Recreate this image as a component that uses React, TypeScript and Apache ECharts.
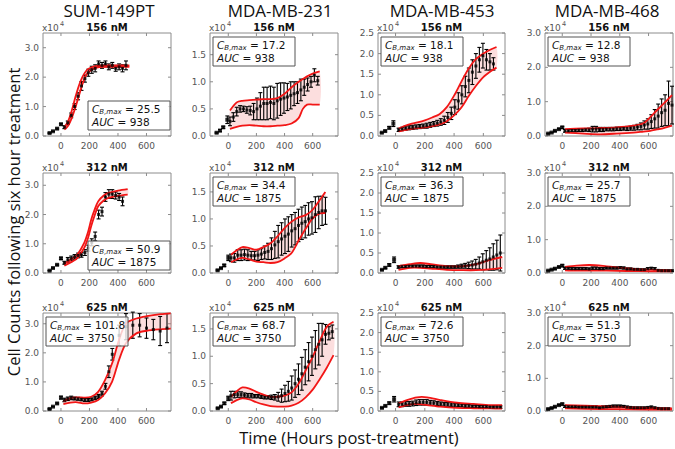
import React, { useEffect, useRef } from "react";
import * as echarts from "echarts";

// ---------- labels ----------
const CELL_LINES = ["SUM-149PT", "MDA-MB-231", "MDA-MB-453", "MDA-MB-468"];
const DOSES = ["156 nM", "312 nM", "625 nM"];
const AUC = ["938", "1875", "3750"];
const CBMAX = [
  ["25.5", "17.2", "18.1", "12.8"],
  ["50.9", "34.4", "36.3", "25.7"],
  ["101.8", "68.7", "72.6", "51.3"],
];
const X_TICKS = [0, 200, 400, 600];
const Y_TICKS_WHOLE = [0, 1, 2, 3];
const Y_TICKS_231 = [0, 0.5, 1, 1.5];
const Y_TICKS_453 = [0, 0.5, 1, 1.5, 2, 2.5];
const Y_LABEL = "Cell Counts following six hour treatment";
const X_LABEL = "Time (Hours post-treatment)";

// ---------- data (cell counts in units of 10^4; [hours, mean, error]) ----------
const SUM156_PRE = [[-80, 0.1, 0.01], [-56, 0.16, 0.01], [-27, 0.25, 0.02], [0, 0.4, 0.03]];
const SUM156_OBS = [[24, 0.3, 0.05], [48, 0.45, 0.06], [72, 0.7, 0.08], [96, 1.0, 0.1], [120, 1.35, 0.12], [144, 1.7, 0.15], [168, 1.95, 0.12], [192, 2.15, 0.12], [216, 2.25, 0.12], [240, 2.3, 0.12], [264, 2.45, 0.1], [288, 2.4, 0.1], [312, 2.45, 0.1], [336, 2.35, 0.1], [360, 2.4, 0.1], [384, 2.3, 0.1], [408, 2.35, 0.1], [432, 2.3, 0.12], [456, 2.4, 0.15]];
const SUM156_FIT_T = [24, 50, 75, 100, 125, 150, 175, 200, 250, 300, 350, 400, 480];
const SUM156_LO = [0.22, 0.35, 0.6, 0.95, 1.35, 1.75, 2.05, 2.2, 2.32, 2.35, 2.35, 2.35, 2.35];
const SUM156_HI = [0.3, 0.5, 0.85, 1.3, 1.7, 2.0, 2.2, 2.3, 2.38, 2.4, 2.4, 2.4, 2.4];

const SUM312_PRE = [[-80, 0.08, 0.01], [-56, 0.17, 0.01], [-27, 0.28, 0.02], [0, 0.5, 0.04]];
const SUM312_OBS = [[24, 0.35, 0.05], [48, 0.45, 0.08], [72, 0.5, 0.08], [96, 0.55, 0.08], [120, 0.6, 0.08], [144, 0.62, 0.08], [168, 0.7, 0.1], [192, 0.85, 0.1], [216, 1.05, 0.12], [240, 1.25, 0.15], [264, 2.0, 0.15], [288, 2.1, 0.15], [312, 2.6, 0.15], [336, 2.7, 0.15], [360, 2.7, 0.15], [384, 2.65, 0.12], [408, 2.6, 0.12], [432, 2.45, 0.15]];
const SUM312_FIT_T = [24, 75, 115, 163, 190, 212, 235, 261, 300, 334, 400, 468];
const SUM312_LO = [0.25, 0.38, 0.51, 0.86, 1.2, 1.6, 1.95, 2.28, 2.48, 2.57, 2.64, 2.68];
const SUM312_HI = [0.32, 0.48, 0.63, 1.03, 1.4, 1.82, 2.15, 2.45, 2.65, 2.74, 2.82, 2.87];

const SUM625_PRE = [[-80, 0.07, 0.01], [-56, 0.15, 0.01], [-27, 0.26, 0.02], [0, 0.46, 0.05]];
const SUM625_OBS = [[24, 0.38, 0.06], [48, 0.42, 0.06], [72, 0.45, 0.06], [96, 0.43, 0.05], [120, 0.42, 0.05], [144, 0.4, 0.05], [168, 0.38, 0.05], [192, 0.38, 0.05], [216, 0.4, 0.05], [240, 0.45, 0.06], [264, 0.5, 0.07], [288, 0.6, 0.08], [312, 0.85, 0.1], [336, 1.35, 0.2], [360, 1.95, 0.2], [408, 2.6, 0.35], [456, 2.9, 0.45], [504, 2.95, 0.45], [552, 2.95, 0.4], [600, 2.85, 0.35], [648, 2.8, 0.35], [696, 2.75, 0.5], [744, 2.85, 0.5]];
const SUM625_FIT_T = [17, 66, 115, 163, 212, 261, 310, 359, 407, 456, 529, 602, 700, 770];
const SUM625_LO = [0.24, 0.29, 0.3, 0.26, 0.29, 0.38, 0.61, 1.01, 1.75, 2.33, 2.67, 2.76, 2.81, 2.83];
const SUM625_HI = [0.34, 0.44, 0.47, 0.46, 0.49, 0.66, 1.07, 1.64, 2.44, 3.01, 3.18, 3.26, 3.33, 3.36];

const MB231_156_PRE = [[-83, 0.06, 0.01], [-59, 0.1, 0.02], [-36, 0.16, 0.02], [-7, 0.3, 0.07]];
const MB231_156_OBS = [[12, 0.27, 0.08], [36, 0.35, 0.08], [60, 0.45, 0.08], [84, 0.5, 0.06], [108, 0.5, 0.05], [132, 0.48, 0.06], [156, 0.47, 0.08], [180, 0.45, 0.15], [204, 0.5, 0.2], [228, 0.55, 0.25], [252, 0.6, 0.3], [276, 0.6, 0.3], [300, 0.62, 0.3], [324, 0.6, 0.3], [348, 0.65, 0.32], [372, 0.68, 0.3], [396, 0.7, 0.28], [420, 0.72, 0.25], [444, 0.75, 0.25], [468, 0.78, 0.22], [492, 0.8, 0.2], [516, 0.85, 0.2], [540, 0.9, 0.15], [564, 0.95, 0.12], [588, 1.0, 0.1], [612, 1.12, 0.12], [636, 1.02, 0.08]];
const MB231_156_FIT_T = [12, 60, 100, 150, 200, 250, 300, 350, 400, 450, 500, 530, 560, 600, 650];
const MB231_156_LO = [0.13, 0.17, 0.19, 0.2, 0.19, 0.18, 0.18, 0.19, 0.2, 0.23, 0.33, 0.5, 0.58, 0.58, 0.58];
const MB231_156_HI = [0.47, 0.62, 0.65, 0.66, 0.67, 0.68, 0.68, 0.7, 0.78, 0.9, 1.0, 1.05, 1.1, 1.15, 1.19];

const MB231_312_PRE = [[-76, 0.05, 0.01], [-52, 0.09, 0.01], [-29, 0.14, 0.02], [0, 0.28, 0.05]];
const MB231_312_OBS = [[19, 0.28, 0.07], [43, 0.28, 0.08], [67, 0.33, 0.1], [91, 0.33, 0.1], [115, 0.34, 0.1], [139, 0.33, 0.1], [163, 0.32, 0.08], [187, 0.32, 0.08], [211, 0.33, 0.1], [235, 0.35, 0.1], [259, 0.38, 0.12], [283, 0.4, 0.15], [307, 0.45, 0.2], [331, 0.52, 0.25], [355, 0.58, 0.3], [379, 0.63, 0.3], [403, 0.68, 0.32], [427, 0.72, 0.32], [451, 0.78, 0.3], [475, 0.82, 0.3], [499, 0.88, 0.3], [523, 0.92, 0.3], [547, 0.95, 0.3], [571, 1.0, 0.3], [595, 1.02, 0.3], [619, 1.08, 0.33], [643, 1.12, 0.3], [667, 1.15, 0.27], [691, 1.15, 0.25]];
const MB231_312_FIT_T = [19, 60, 100, 150, 200, 250, 300, 350, 400, 450, 500, 550, 600, 650, 690];
const MB231_312_LO = [0.2, 0.25, 0.28, 0.25, 0.21, 0.2, 0.185, 0.2, 0.27, 0.37, 0.6, 0.82, 1.01, 1.1, 1.11];
const MB231_312_HI = [0.34, 0.42, 0.48, 0.46, 0.43, 0.48, 0.55, 0.68, 0.83, 0.95, 1.03, 1.07, 1.17, 1.35, 1.5];

const MB231_625_PRE = [[-75, 0.05, 0.01], [-52, 0.08, 0.01], [-28, 0.14, 0.02], [0, 0.23, 0.04]];
const MB231_625_OBS = [[19, 0.28, 0.08], [43, 0.3, 0.06], [67, 0.3, 0.05], [91, 0.3, 0.05], [115, 0.29, 0.04], [139, 0.28, 0.04], [163, 0.28, 0.04], [187, 0.27, 0.03], [211, 0.27, 0.03], [235, 0.26, 0.03], [259, 0.25, 0.03], [283, 0.25, 0.03], [307, 0.25, 0.04], [331, 0.25, 0.05], [355, 0.26, 0.08], [379, 0.28, 0.12], [403, 0.32, 0.15], [427, 0.36, 0.18], [451, 0.42, 0.22], [475, 0.5, 0.25], [499, 0.58, 0.28], [523, 0.68, 0.3], [547, 0.8, 0.32], [571, 0.9, 0.35], [595, 1.0, 0.35], [619, 1.12, 0.35], [643, 1.22, 0.38], [667, 1.3, 0.3], [691, 1.4, 0.18], [715, 1.42, 0.12], [739, 1.45, 0.12]];
const MB231_625_FIT_T = [19, 60, 100, 150, 200, 250, 300, 350, 400, 450, 500, 550, 600, 650, 700, 748];
const MB231_625_LO = [0.14, 0.2, 0.23, 0.21, 0.16, 0.12, 0.09, 0.08, 0.08, 0.1, 0.15, 0.25, 0.39, 0.58, 0.79, 1.02];
const MB231_625_HI = [0.26, 0.36, 0.43, 0.41, 0.35, 0.3, 0.26, 0.26, 0.28, 0.34, 0.5, 0.74, 0.99, 1.28, 1.54, 1.63];

const MB453_156_PRE = [[-94, 0.08, 0.01], [-71, 0.12, 0.02], [-43, 0.2, 0.03], [-15, 0.3, 0.07]];
const MB453_156_OBS = [[21, 0.15, 0.04], [45, 0.17, 0.04], [69, 0.19, 0.05], [93, 0.2, 0.05], [117, 0.21, 0.05], [141, 0.22, 0.05], [165, 0.23, 0.05], [189, 0.24, 0.05], [213, 0.25, 0.06], [237, 0.27, 0.06], [261, 0.29, 0.06], [285, 0.31, 0.07], [309, 0.34, 0.08], [333, 0.38, 0.1], [357, 0.45, 0.12], [381, 0.55, 0.15], [405, 0.7, 0.18], [429, 0.85, 0.2], [453, 1.0, 0.22], [477, 1.2, 0.25], [501, 1.35, 0.3], [525, 1.55, 0.3], [549, 1.7, 0.3], [573, 1.85, 0.3], [597, 1.95, 0.3], [621, 1.85, 0.25], [645, 1.8, 0.2], [669, 1.75, 0.15]];
const MB453_156_FIT_T = [21, 60, 100, 150, 200, 250, 300, 350, 400, 450, 500, 550, 600, 650, 690];
const MB453_156_LO = [0.11, 0.14, 0.17, 0.19, 0.21, 0.24, 0.28, 0.36, 0.5, 0.69, 0.97, 1.22, 1.43, 1.57, 1.66];
const MB453_156_HI = [0.18, 0.24, 0.29, 0.33, 0.38, 0.45, 0.53, 0.7, 0.98, 1.32, 1.64, 1.87, 2.0, 2.1, 2.16];

const MB453_312_PRE = [[-93, 0.08, 0.01], [-70, 0.13, 0.02], [-43, 0.2, 0.03], [-10, 0.33, 0.07]];
const MB453_312_OBS = [[20, 0.15, 0.03], [44, 0.16, 0.03], [68, 0.16, 0.03], [92, 0.17, 0.03], [116, 0.17, 0.03], [140, 0.17, 0.03], [164, 0.17, 0.03], [188, 0.17, 0.03], [212, 0.16, 0.03], [236, 0.16, 0.03], [260, 0.16, 0.03], [284, 0.15, 0.03], [308, 0.15, 0.03], [332, 0.15, 0.03], [356, 0.15, 0.03], [380, 0.15, 0.03], [404, 0.15, 0.03], [428, 0.16, 0.04], [452, 0.17, 0.05], [476, 0.18, 0.06], [500, 0.19, 0.08], [524, 0.2, 0.1], [548, 0.22, 0.12], [572, 0.25, 0.15], [596, 0.28, 0.2], [620, 0.32, 0.24], [644, 0.35, 0.28], [668, 0.4, 0.33], [692, 0.45, 0.37], [716, 0.5, 0.45]];
const MB453_312_FIT_T = [20, 100, 170, 240, 350, 460, 550, 640, 729];
const MB453_312_LO = [0.08, 0.13, 0.13, 0.11, 0.08, 0.07, 0.07, 0.09, 0.13];
const MB453_312_HI = [0.17, 0.22, 0.25, 0.22, 0.17, 0.17, 0.22, 0.32, 0.4];

const MB453_625_PRE = [[-93, 0.08, 0.01], [-70, 0.13, 0.02], [-43, 0.2, 0.03], [-10, 0.3, 0.07]];
const MB453_625_OBS = [[21, 0.17, 0.06], [45, 0.17, 0.06], [69, 0.18, 0.06], [93, 0.18, 0.06], [117, 0.19, 0.06], [141, 0.21, 0.07], [165, 0.22, 0.07], [189, 0.22, 0.07], [213, 0.22, 0.07], [237, 0.21, 0.06], [261, 0.2, 0.06], [285, 0.19, 0.05], [309, 0.18, 0.05], [333, 0.17, 0.05], [357, 0.17, 0.05], [381, 0.16, 0.05], [405, 0.15, 0.05], [429, 0.15, 0.04], [453, 0.14, 0.04], [477, 0.13, 0.04], [501, 0.13, 0.04], [525, 0.12, 0.03], [549, 0.12, 0.03], [573, 0.11, 0.03], [597, 0.11, 0.03], [621, 0.11, 0.03], [645, 0.1, 0.03], [669, 0.1, 0.03], [693, 0.1, 0.03], [717, 0.1, 0.03]];
const MB453_625_FIT_T = [21, 78, 146, 215, 306, 420, 534, 648, 728];
const MB453_625_LO = [0.09, 0.15, 0.18, 0.15, 0.11, 0.08, 0.07, 0.065, 0.06];
const MB453_625_HI = [0.19, 0.28, 0.35, 0.35, 0.28, 0.21, 0.18, 0.15, 0.15];

const MB468_156_PRE = [[-98, 0.07, 0.01], [-74, 0.1, 0.01], [-51, 0.15, 0.02], [-23, 0.2, 0.02], [0, 0.25, 0.03]];
const MB468_156_OBS = [[19, 0.15, 0.04], [43, 0.15, 0.04], [67, 0.16, 0.04], [91, 0.16, 0.04], [115, 0.17, 0.04], [139, 0.17, 0.04], [163, 0.18, 0.04], [187, 0.18, 0.05], [211, 0.2, 0.08], [235, 0.2, 0.08], [259, 0.19, 0.06], [283, 0.19, 0.06], [307, 0.2, 0.05], [331, 0.2, 0.05], [355, 0.2, 0.05], [379, 0.21, 0.05], [403, 0.21, 0.05], [427, 0.22, 0.05], [451, 0.22, 0.06], [475, 0.23, 0.06], [499, 0.24, 0.07], [523, 0.26, 0.08], [547, 0.28, 0.1], [571, 0.32, 0.12], [595, 0.35, 0.15], [619, 0.42, 0.2], [643, 0.5, 0.27], [667, 0.58, 0.35], [691, 0.68, 0.4], [715, 0.75, 0.45], [739, 0.95, 0.65], [763, 0.9, 0.55]];
const MB468_156_FIT_T = [19, 147, 263, 379, 495, 565, 612, 658, 705, 763];
const MB468_156_LO = [0.1, 0.07, 0.05, 0.07, 0.1, 0.13, 0.15, 0.19, 0.23, 0.3];
const MB468_156_HI = [0.2, 0.22, 0.23, 0.25, 0.3, 0.37, 0.55, 0.75, 0.94, 1.19];

const MB468_312_PRE = [[-98, 0.07, 0.01], [-74, 0.1, 0.01], [-51, 0.13, 0.02], [-23, 0.18, 0.02], [0, 0.22, 0.03]];
const MB468_312_OBS = [[19, 0.14, 0.03], [43, 0.14, 0.03], [67, 0.13, 0.03], [91, 0.13, 0.03], [115, 0.13, 0.03], [139, 0.13, 0.03], [163, 0.13, 0.03], [187, 0.12, 0.03], [211, 0.14, 0.04], [235, 0.14, 0.04], [259, 0.13, 0.03], [283, 0.13, 0.03], [307, 0.15, 0.03], [331, 0.15, 0.03], [355, 0.15, 0.03], [379, 0.15, 0.03], [403, 0.16, 0.03], [427, 0.15, 0.03], [451, 0.12, 0.03], [475, 0.12, 0.03], [499, 0.11, 0.02], [523, 0.11, 0.02], [547, 0.1, 0.02], [571, 0.1, 0.02], [595, 0.13, 0.03], [619, 0.14, 0.03], [643, 0.13, 0.03], [667, 0.08, 0.02], [691, 0.07, 0.02], [715, 0.07, 0.02], [739, 0.07, 0.02], [763, 0.07, 0.02]];
const MB468_312_FIT_T = [19, 100, 193, 309, 449, 612, 763];
const MB468_312_LO = [0.08, 0.07, 0.07, 0.07, 0.06, 0.05, 0.05];
const MB468_312_HI = [0.18, 0.22, 0.24, 0.2, 0.14, 0.1, 0.08];

const MB468_625_PRE = [[-98, 0.06, 0.01], [-74, 0.09, 0.01], [-51, 0.13, 0.02], [-23, 0.18, 0.02], [0, 0.21, 0.03]];
const MB468_625_OBS = [[19, 0.14, 0.03], [43, 0.13, 0.03], [67, 0.13, 0.03], [91, 0.13, 0.03], [115, 0.12, 0.03], [139, 0.12, 0.03], [163, 0.12, 0.03], [187, 0.12, 0.03], [211, 0.12, 0.03], [235, 0.12, 0.03], [259, 0.1, 0.02], [283, 0.12, 0.03], [307, 0.13, 0.03], [331, 0.14, 0.03], [355, 0.15, 0.03], [379, 0.15, 0.03], [403, 0.15, 0.03], [427, 0.14, 0.03], [451, 0.12, 0.03], [475, 0.11, 0.02], [499, 0.1, 0.02], [523, 0.1, 0.02], [547, 0.1, 0.02], [571, 0.1, 0.02], [595, 0.11, 0.02], [619, 0.12, 0.03], [643, 0.1, 0.02], [667, 0.08, 0.02], [691, 0.07, 0.02], [715, 0.07, 0.02], [739, 0.07, 0.02]];
const MB468_625_FIT_T = [19, 263, 495, 763];
const MB468_625_LO = [0.08, 0.06, 0.05, 0.04];
const MB468_625_HI = [0.18, 0.15, 0.11, 0.08];

// ---------- panel assembly (row-major) ----------
type Panel = { pre: number[][]; obs: number[][]; fitT: number[]; lo: number[]; hi: number[] };
const PANELS: Panel[] = [
  { pre: SUM156_PRE, obs: SUM156_OBS, fitT: SUM156_FIT_T, lo: SUM156_LO, hi: SUM156_HI },
  { pre: MB231_156_PRE, obs: MB231_156_OBS, fitT: MB231_156_FIT_T, lo: MB231_156_LO, hi: MB231_156_HI },
  { pre: MB453_156_PRE, obs: MB453_156_OBS, fitT: MB453_156_FIT_T, lo: MB453_156_LO, hi: MB453_156_HI },
  { pre: MB468_156_PRE, obs: MB468_156_OBS, fitT: MB468_156_FIT_T, lo: MB468_156_LO, hi: MB468_156_HI },
  { pre: SUM312_PRE, obs: SUM312_OBS, fitT: SUM312_FIT_T, lo: SUM312_LO, hi: SUM312_HI },
  { pre: MB231_312_PRE, obs: MB231_312_OBS, fitT: MB231_312_FIT_T, lo: MB231_312_LO, hi: MB231_312_HI },
  { pre: MB453_312_PRE, obs: MB453_312_OBS, fitT: MB453_312_FIT_T, lo: MB453_312_LO, hi: MB453_312_HI },
  { pre: MB468_312_PRE, obs: MB468_312_OBS, fitT: MB468_312_FIT_T, lo: MB468_312_LO, hi: MB468_312_HI },
  { pre: SUM625_PRE, obs: SUM625_OBS, fitT: SUM625_FIT_T, lo: SUM625_LO, hi: SUM625_HI },
  { pre: MB231_625_PRE, obs: MB231_625_OBS, fitT: MB231_625_FIT_T, lo: MB231_625_LO, hi: MB231_625_HI },
  { pre: MB453_625_PRE, obs: MB453_625_OBS, fitT: MB453_625_FIT_T, lo: MB453_625_LO, hi: MB453_625_HI },
  { pre: MB468_625_PRE, obs: MB468_625_OBS, fitT: MB468_625_FIT_T, lo: MB468_625_LO, hi: MB468_625_HI },
];

// ---------- layout & styling ----------
const W = 675;
const H = 449;
const COL_LEFT = [43, 210, 378, 545];
const COL_W = [128, 128, 127, 128];
const ROW_TOP = [33, 173, 313];
const ROW_H = [103, 100, 98];
const X_MIN = [-126, -130, -120, -120];
const X_MAX = [772, 780, 748, 770];
const Y_MAX = [
  [3.5, 1.9, 2.5, 3.0],
  [3.42, 1.85, 2.5, 3.0],
  [3.37, 1.79, 2.5, 3.0],
];
const Y_TICKS = [Y_TICKS_WHOLE, Y_TICKS_231, Y_TICKS_453, Y_TICKS_WHOLE];
const TITLE_X = [109, 280, 442, 607];
const FONT = "'DejaVu Sans', sans-serif";
const BIG_FONT = "'Open Sans', sans-serif";
const RED = "#f21616";
const PINK = "rgba(240, 90, 90, 0.2)";
const FRAME = "#8c8c8c";
const TICK_TEXT = "#555555";

function buildOption() {
  const grid: any[] = [];
  const xAxis: any[] = [];
  const yAxis: any[] = [];
  const series: any[] = [];
  const graphic: any[] = [];

  PANELS.forEach((p, i) => {
    const r = Math.floor(i / 4);
    const c = i % 4;
    const left = COL_LEFT[c];
    const top = ROW_TOP[r];
    const w = COL_W[c];
    const h = ROW_H[r];
    grid.push({
      left, top, width: w, height: h, show: true, borderColor: FRAME, borderWidth: 1,
      backgroundColor: "transparent", containLabel: false, outerBoundsMode: "none",
    });
    xAxis.push({
      gridIndex: i, type: "value", min: X_MIN[c], max: X_MAX[c], position: "bottom",
      axisLine: { show: false }, splitLine: { show: false }, axisTick: { show: false },
      axisLabel: { customValues: X_TICKS, fontSize: 9, color: TICK_TEXT, fontFamily: FONT, margin: 5, formatter: (v: number) => String(v) },
    });
    yAxis.push({
      gridIndex: i, type: "value", min: 0, max: Y_MAX[r][c], position: "left",
      axisLine: { show: false }, splitLine: { show: false }, axisTick: { show: false },
      axisLabel: { customValues: Y_TICKS[c], fontSize: 9, color: TICK_TEXT, fontFamily: FONT, margin: 4, formatter: (v: number) => v.toFixed(1) },
    });

    // inward tick marks on all four sides, placed through the axes' scales
    const yT = Y_TICKS[c];
    series.push({
      type: "custom", xAxisIndex: i, yAxisIndex: i, silent: true, z: 1,
      data: [[X_TICKS[0], yT[0]]],
      renderItem: (params: any, api: any) => {
        const cs = params.coordSys;
        const kids: any[] = [];
        const st = { stroke: FRAME, lineWidth: 1 };
        X_TICKS.forEach((t) => {
          const px = api.coord([t, 0])[0];
          kids.push({ type: "line", shape: { x1: px, y1: cs.y + cs.height, x2: px, y2: cs.y + cs.height - 3 }, style: st });
          kids.push({ type: "line", shape: { x1: px, y1: cs.y, x2: px, y2: cs.y + 3 }, style: st });
        });
        yT.forEach((v) => {
          const py = api.coord([0, v])[1];
          kids.push({ type: "line", shape: { x1: cs.x, y1: py, x2: cs.x + 3, y2: py }, style: st });
          kids.push({ type: "line", shape: { x1: cs.x + cs.width, y1: py, x2: cs.x + cs.width - 3, y2: py }, style: st });
        });
        return { type: "group", children: kids };
      },
    });
    // model band
    series.push({
      type: "custom", xAxisIndex: i, yAxisIndex: i, silent: true, z: 2,
      data: [[p.fitT[0], p.lo[0]]],
      renderItem: (_params: any, api: any) => {
        const lo = p.fitT.map((t, j) => api.coord([t, p.lo[j]]));
        const hi = p.fitT.map((t, j) => api.coord([t, p.hi[j]]));
        return {
          type: "polygon",
          shape: { points: lo.concat(hi.slice().reverse()), smooth: 0.3 },
          style: { fill: PINK, stroke: null },
        };
      },
    });
    // error bars (pre + post)
    series.push({
      type: "custom", xAxisIndex: i, yAxisIndex: i, silent: true, z: 3,
      data: p.pre.concat(p.obs),
      encode: { x: 0, y: 1 },
      renderItem: (_params: any, api: any) => {
        const t = api.value(0);
        const m = api.value(1);
        const e = api.value(2);
        const a = api.coord([t, m + e]);
        const b = api.coord([t, m - e]);
        const st = { stroke: "#000", lineWidth: 1.1 };
        return {
          type: "group",
          children: [
            { type: "line", shape: { x1: a[0], y1: a[1], x2: b[0], y2: b[1] }, style: st },
            { type: "line", shape: { x1: a[0] - 2, y1: a[1], x2: a[0] + 2, y2: a[1] }, style: st },
            { type: "line", shape: { x1: b[0] - 2, y1: b[1], x2: b[0] + 2, y2: b[1] }, style: st },
          ],
        };
      },
    });
    // fit curves
    series.push({
      type: "custom", xAxisIndex: i, yAxisIndex: i, silent: true, z: 4,
      data: [[p.fitT[0], p.hi[0]]],
      renderItem: (_params: any, api: any) => {
        const lo = p.fitT.map((t, j) => api.coord([t, p.lo[j]]));
        const hi = p.fitT.map((t, j) => api.coord([t, p.hi[j]]));
        return {
          type: "group",
          children: [
            { type: "polyline", shape: { points: lo, smooth: 0.3 }, style: { stroke: RED, lineWidth: 1.8, fill: null } },
            { type: "polyline", shape: { points: hi, smooth: 0.3 }, style: { stroke: RED, lineWidth: 1.8, fill: null } },
          ],
        };
      },
    });
    // means
    series.push({
      type: "scatter", xAxisIndex: i, yAxisIndex: i, silent: true, z: 5,
      symbol: "rect", symbolSize: 3, itemStyle: { color: "#000" },
      data: p.obs.map((d) => [d[0], d[1]]),
    });
    series.push({
      type: "scatter", xAxisIndex: i, yAxisIndex: i, silent: true, z: 5,
      symbol: "rect", symbolSize: 4, itemStyle: { color: "#000" },
      data: p.pre.map((d) => [d[0], d[1]]),
    });

    // panel decorations
    graphic.push({
      type: "text", x: left + w / 2, y: top - 6, z: 100,
      style: { text: DOSES[r], fontSize: 10, fontWeight: "bold", fontFamily: FONT, fill: "#111", align: "center", verticalAlign: "middle" },
    });
    graphic.push({
      type: "text", x: left - 1, y: top - 5, z: 100,
      style: { text: "x10", fontSize: 9, fontFamily: FONT, fill: TICK_TEXT, align: "left", verticalAlign: "middle" },
    });
    graphic.push({
      type: "text", x: left + 17, y: top - 9, z: 100,
      style: { text: "4", fontSize: 6.5, fontFamily: FONT, fill: TICK_TEXT, align: "left", verticalAlign: "middle" },
    });
    const boxW = 82;
    const boxH = 29;
    const bottomRight = c === 0 && r < 2;
    const bx = bottomRight ? left + w - boxW - 1 : left + 3;
    const by = bottomRight ? top + h - boxH - (r === 0 ? 6 : 3) : top + 4;
    graphic.push({
      type: "rect", x: bx, y: by, z: 100, shape: { width: boxW, height: boxH },
      style: { fill: "rgba(255,255,255,0.78)", stroke: "#555", lineWidth: 1 },
    });
    graphic.push({
      type: "text", x: bx + 4, y: by + 1, z: 101,
      style: {
        text: `{i|C}{s|B,max}{n| = ${CBMAX[r][c]}}\n{i|AUC}{n| = ${AUC[r]}}`,
        align: "left", verticalAlign: "top",
        rich: {
          i: { fontSize: 10.5, fontStyle: "italic", fontFamily: FONT, fill: "#111", lineHeight: 13.5 },
          n: { fontSize: 10.5, fontFamily: FONT, fill: "#111", lineHeight: 13.5 },
          s: { fontSize: 7, fontStyle: "italic", fontFamily: FONT, fill: "#111", lineHeight: 7, verticalAlign: "bottom" },
        },
      },
    });
  });

  CELL_LINES.forEach((name, c) => {
    graphic.push({
      type: "text", x: TITLE_X[c], y: 10, z: 100,
      style: { text: name, fontSize: 17, fontFamily: BIG_FONT, fill: "#111", align: "center", verticalAlign: "middle" },
    });
  });
  graphic.push({
    type: "text", x: 13, y: 222, rotation: Math.PI / 2, z: 100,
    style: { text: Y_LABEL, fontSize: 16.5, fontFamily: BIG_FONT, fill: "#111", align: "center", verticalAlign: "middle" },
  });
  graphic.push({
    type: "text", x: 349, y: 437, z: 100,
    style: { text: X_LABEL, fontSize: 16.5, fontFamily: BIG_FONT, fill: "#111", align: "center", verticalAlign: "middle" },
  });

  return {
    animation: false,
    backgroundColor: "#ffffff",
    grid, xAxis, yAxis, series, graphic,
  };
}

export default function App() {
  const ref = useRef<HTMLDivElement>(null);
  useEffect(() => {
    if (!ref.current) return;
    const chart = echarts.init(ref.current, null, { renderer: "svg", width: W, height: H });
    chart.setOption(buildOption() as any);
    return () => chart.dispose();
  }, []);
  return <div ref={ref} style={{ position: "fixed", left: 0, top: 0, width: W, height: H, background: "#fff" }} />;
}
